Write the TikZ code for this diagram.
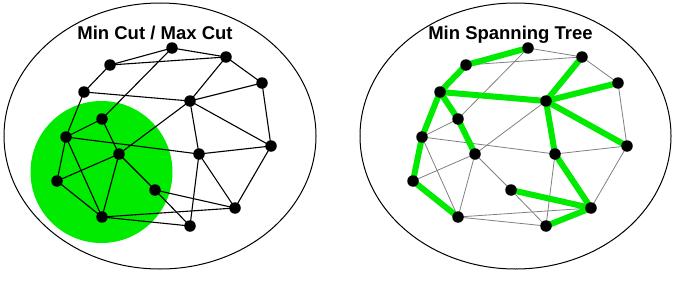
\documentclass[tikz,border=0pt]{standalone}
\usepackage{fontspec}
\setmainfont{Liberation Sans}
\pgfdeclarelayer{bg}
\pgfdeclarelayer{edges}
\pgfsetlayers{bg,edges,main}
\definecolor{vivid}{RGB}{0,235,0}
\definecolor{thin}{RGB}{128,128,128}
\tikzset{
  dot/.style={circle,fill=black,inner sep=0pt,minimum size=11.5pt},
  blackedge/.style={draw=black,line width=1.1pt},
  greyedge/.style={draw=thin,line width=0.8pt},
  treeedge/.style={draw=vivid,line width=6pt},
  frame/.style={draw=black,line width=1pt},
  title/.style={font=\bfseries\fontsize{18.5}{20}\selectfont,anchor=base,inner sep=0pt}
}
\newcommand\placegraph[2]{%
  \begin{scope}[xshift=#2]
  \node[dot] (#1A) at (172,48) {};
  \node[dot] (#1B) at (226,57) {};
  \node[dot] (#1C) at (110,65) {};
  \node[dot] (#1D) at (262,83) {};
  \node[dot] (#1E) at (84,92) {};
  \node[dot] (#1F) at (190,101) {};
  \node[dot] (#1G) at (102,119) {};
  \node[dot] (#1H) at (66,137) {};
  \node[dot] (#1I) at (271,146) {};
  \node[dot] (#1J) at (119,154) {};
  \node[dot] (#1K) at (199,154) {};
  \node[dot] (#1L) at (57,181) {};
  \node[dot] (#1M) at (155,190) {};
  \node[dot] (#1N) at (235,208) {};
  \node[dot] (#1O) at (102,217) {};
  \node[dot] (#1P) at (190,226) {};
  \end{scope}}
\newcommand\graphedges[2]{%
  \foreach \u/\v in {A/B,C/A,C/B,A/G,C/E,E/F,E/H,B/F,B/D,D/F,D/I,F/I,F/K,F/J,G/H,G/J,H/K,H/L,H/O,J/L,J/M,J/O,K/I,K/N,K/P,L/O,M/N,M/P,O/N,O/P,I/N}
    {\path[#2] (#1\u.center) -- (#1\v.center);}}
\begin{document}
\begin{tikzpicture}[x=1pt,y=-1pt]
\useasboundingbox (0,0) rectangle (688,281);
\begin{pgfonlayer}{bg}
  \path[frame] (160,136) ellipse [x radius=156, y radius=133];
  \path[frame] (515.5,136) ellipse [x radius=155.5, y radius=133];
  \fill[vivid] (101.5,172) circle [radius=71];
\end{pgfonlayer}
\node[title] (t1) at (155,39.3) {Min Cut / Max Cut};
\node[title] (t2) at (510.5,39.3) {Min Spanning Tree};
\placegraph{l}{0pt}
\placegraph{r}{356pt}
\begin{pgfonlayer}{edges}
  \graphedges{l}{blackedge}
  \graphedges{r}{greyedge}
  \path[greyedge] (rE.center) -- (rG.center);
  \foreach \u/\v in {A/C,C/E,E/F,E/G,G/J,E/H,H/L,L/O,F/B,F/D,F/I,F/K,K/N,N/M,N/P}
    {\path[treeedge] (r\u.center) -- (r\v.center);}
\end{pgfonlayer}
\end{tikzpicture}
\end{document}
